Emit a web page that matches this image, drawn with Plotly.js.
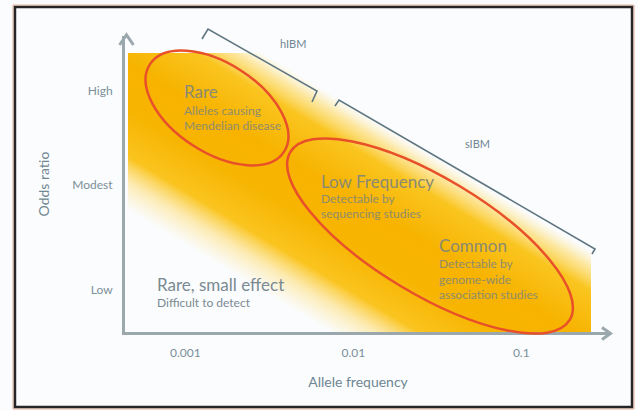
<!DOCTYPE html>
<html><head><meta charset="utf-8">
<script src="https://cdn.plot.ly/plotly-3.0.1.min.js"></script>
<style>html,body{margin:0;padding:0;background:#fff;}</style>
</head><body>
<div id="chart" style="width:638px;height:410px"></div>
<script>
// ---- data ----
const xTickVals = [0.001, 0.01, 0.1];
const xTickText = ['0.001', '0.01', '0.1'];
const yTickVals = [1, 2, 2.9];
const yTickText = ['Low', 'Modest', 'High'];
const regionTitles = ['Rare', 'Low Frequency', 'Common', 'Rare, small effect'];
const regionNotes = [
  ['Alleles causing', 'Mendelian disease'],
  ['Detectable by', 'sequencing studies'],
  ['Detectable by', 'genome-wide', 'association studies'],
  ['Difficult to detect']
];
const bracketLabels = ['hIBM', 'sIBM'];
const xTitle = 'Allele frequency';
const yTitle = 'Odds ratio';

// ---- layout geometry ----
const W = 638, H = 410;
const M = {l: 125, r: 47, t: 36, b: 78};
const PW = W - M.l - M.r, PH = H - M.t - M.b;
const px = x => (x - M.l) / PW;
const py = y => (H - M.b - y) / PH;
const pt = p => px(p[0]).toFixed(4) + ',' + py(p[1]).toFixed(4);
const poly = pts => pts.map((p, i) => (i ? 'L' : 'M') + pt(p)).join(' ');

function ellipsePath(cx, cy, a, b, deg) {
  const t = deg * Math.PI / 180, k = 0.5523;
  const U = [Math.cos(t), Math.sin(t)], V = [-Math.sin(t), Math.cos(t)];
  const P = (u, v) => [cx + u * U[0] + v * V[0], cy + u * U[1] + v * V[1]];
  const c = [[a,0],[a,k*b],[k*a,b],[0,b],[-k*a,b],[-a,k*b],[-a,0],[-a,-k*b],[-k*a,-b],[0,-b],[k*a,-b],[a,-k*b],[a,0]].map(q => P(q[0], q[1]));
  let d = 'M' + pt(c[0]);
  for (let i = 1; i < c.length; i += 3) d += ' C' + pt(c[i]) + ' ' + pt(c[i+1]) + ' ' + pt(c[i+2]);
  return d + ' Z';
}

// gradient band as an SVG image covering the plot area
const svg = `<svg xmlns="http://www.w3.org/2000/svg" width="${PW}" height="${PH}" viewBox="0 0 ${PW} ${PH}" preserveAspectRatio="none">
<defs><linearGradient id="g" gradientUnits="userSpaceOnUse" x1="284.6" y1="75.6" x2="165.9" y2="272.5">
<stop offset="0.11" stop-color="#fde27a" stop-opacity="0"/>
<stop offset="0.175" stop-color="#fdd54f" stop-opacity="0.55"/>
<stop offset="0.26" stop-color="#fac520" stop-opacity="1"/>
<stop offset="0.45" stop-color="#f7b300" stop-opacity="1"/>
<stop offset="0.62" stop-color="#f7b400" stop-opacity="1"/>
<stop offset="0.80" stop-color="#fac41f" stop-opacity="1"/>
<stop offset="0.90" stop-color="#fdd862" stop-opacity="0.45"/>
<stop offset="1" stop-color="#fde27a" stop-opacity="0"/>
</linearGradient></defs>
<rect x="3" y="17" width="${PW-3}" height="${PH-17}" fill="url(#g)"/></svg>`;
const svgURI = 'data:image/svg+xml;charset=utf-8,' + encodeURIComponent(svg);

const FONT = 'Lato, "Open Sans", sans-serif';
const axisCol = '#9aa8ae', tickCol = '#7a8f99', titleCol = '#6f8793';
const textCol = '#8a8a72', noteCol = '#8f8c6c', bracketCol = '#5f7680', ellCol = '#e8502a';

const shapes = [
  // frame
  {type:'path', xref:'paper', yref:'paper', path: poly([[13,5],[634,5],[634,409],[13,409]]) + ' Z', line:{color:'#e9b49a', width:1}},
  {type:'path', xref:'paper', yref:'paper', path: poly([[15,7],[632,7],[632,407],[15,407]]) + ' Z', line:{color:'#262626', width:2.5}},
  // axis arrows
  {type:'path', xref:'paper', yref:'paper', path: poly([[119.5,45],[126.5,35],[133.5,45]]), line:{color:axisCol, width:3}},
  {type:'path', xref:'paper', yref:'paper', path: poly([[590,333.5],[610,333.5]]), line:{color:axisCol, width:3}},
  {type:'path', xref:'paper', yref:'paper', path: poly([[602,327.5],[610.5,333.5],[602,339.5]]), line:{color:axisCol, width:3}},
  // brackets
  {type:'path', xref:'paper', yref:'paper', path: poly([[202,39],[208,29],[317,91],[312,102]]), line:{color:bracketCol, width:1.6}},
  {type:'path', xref:'paper', yref:'paper', path: poly([[335,106],[339,100],[595,249],[592,254]]), line:{color:bracketCol, width:1.6}},
  // ellipses
  {type:'path', xref:'paper', yref:'paper', path: ellipsePath(217, 108, 80, 44.5, 33), line:{color:ellCol, width:2.5}},
  {type:'path', xref:'paper', yref:'paper', path: ellipsePath(430, 236, 163, 58, 31), line:{color:ellCol, width:2.5}}
];

function txt(x, y, s, size, color) {
  return {xref:'paper', yref:'paper', x:px(x), y:py(y), text:s, showarrow:false,
          xanchor:'left', yanchor:'middle', font:{family:FONT, size:size, color:color}};
}
const annotations = [
  txt(182, 91, regionTitles[0], 17, textCol),
  txt(182, 110, regionNotes[0][0], 12, noteCol),
  txt(182, 125, regionNotes[0][1], 12, noteCol),
  txt(319, 181, regionTitles[1], 17, textCol),
  txt(319, 198, regionNotes[1][0], 12, noteCol),
  txt(319, 213, regionNotes[1][1], 12, noteCol),
  txt(437, 245, regionTitles[2], 17, textCol),
  txt(437, 263, regionNotes[2][0], 12, noteCol),
  txt(437, 279, regionNotes[2][1], 12, noteCol),
  txt(437, 294, regionNotes[2][2], 12, noteCol),
  txt(155, 284, regionTitles[3], 17, '#7a8a92'),
  txt(155, 302, regionNotes[3][0], 12, '#7a8a92'),
  {xref:'paper', yref:'paper', x:px(293), y:py(44), text:bracketLabels[0], showarrow:false, xanchor:'center', yanchor:'middle', font:{family:FONT, size:11, color:titleCol}},
  {xref:'paper', yref:'paper', x:px(477), y:py(143), text:bracketLabels[1], showarrow:false, xanchor:'center', yanchor:'middle', font:{family:FONT, size:11, color:titleCol}}
];

const data = [{type:'scatter', x:xTickVals, y:yTickVals, mode:'none', hoverinfo:'skip', showlegend:false}];

const layout = {
  width: W, height: H, autosize: false,
  margin: M,
  paper_bgcolor: '#fbfcfe', plot_bgcolor: 'rgba(0,0,0,0)',
  showlegend: false,
  xaxis: {type:'log', range:[-3.359, -0.585], tickvals:xTickVals, ticktext:xTickText,
          showgrid:false, zeroline:false, showline:true, linecolor:axisCol, linewidth:3,
          ticks:'', ticklabelstandoff:8, tickfont:{family:FONT, size:12, color:tickCol},
          title:{text:xTitle, font:{family:FONT, size:14, color:titleCol}, standoff:18}, fixedrange:true},
  yaxis: {range:[0.6, 3.419], tickvals:yTickVals, ticktext:yTickText,
          showgrid:false, zeroline:false, showline:true, linecolor:axisCol, linewidth:3,
          ticks:'', ticklabelstandoff:7, tickfont:{family:FONT, size:12, color:tickCol},
          title:{text:yTitle, font:{family:FONT, size:14, color:titleCol}, standoff:20}, fixedrange:true},
  images: [{source: svgURI, xref:'paper', yref:'paper', x:0, y:1, sizex:1, sizey:1,
            xanchor:'left', yanchor:'top', sizing:'stretch', layer:'below'}],
  shapes: shapes,
  annotations: annotations
};

Plotly.newPlot('chart', data, layout, {displayModeBar:false, staticPlot:true});
</script>
</body></html>
